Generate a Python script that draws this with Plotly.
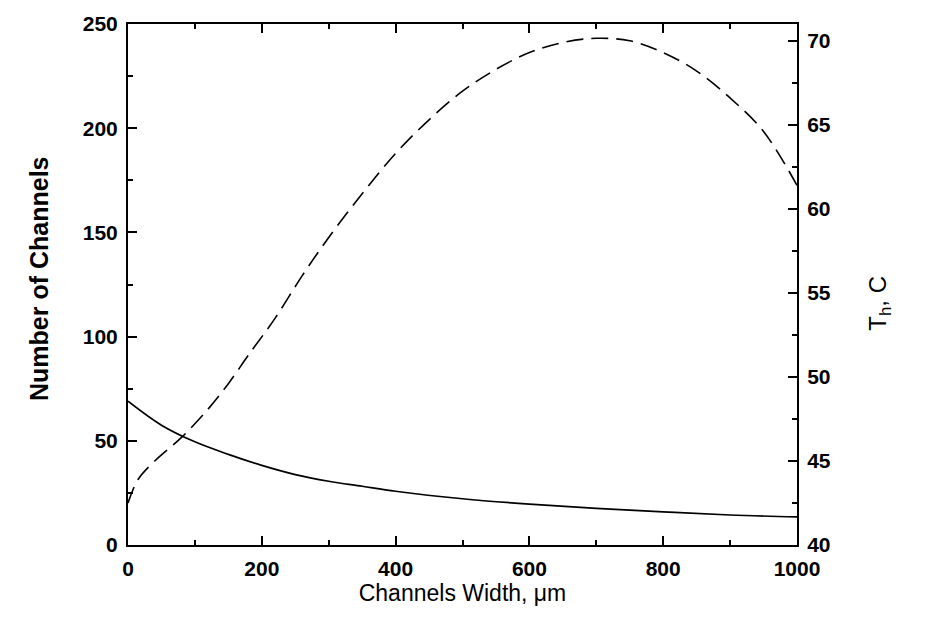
import plotly.graph_objects as go

# Channel width (um) and number of channels (solid, left axis)
width_n = [0, 50, 100, 150, 200, 250, 300, 350, 400, 500, 600, 700, 800, 900, 1000]
n_channels = [69, 57.5, 49.5, 43.5, 38.2, 33.8, 30.6, 28.2, 25.8, 22.2, 19.6, 17.6, 15.9, 14.4, 13.5]

# Channel width (um) and Th (dashed, right axis)
width_t = [0, 15, 40, 80, 120, 150, 180, 220, 260, 300, 350, 400, 450, 500, 550,
           600, 650, 700, 750, 800, 850, 900, 950, 1000]
th = [42.5, 43.9, 45.0, 46.4, 48.1, 49.6, 51.3, 53.5, 56.0, 58.3, 60.9, 63.3, 65.3,
      67.0, 68.3, 69.3, 69.9, 70.15, 70.0, 69.3, 68.2, 66.6, 64.6, 61.4]

x_ticks = [0, 200, 400, 600, 800, 1000]
y_ticks = [0, 50, 100, 150, 200, 250]
y2_ticks = [40, 45, 50, 55, 60, 65, 70]

FONT = "Liberation Sans, Arial, sans-serif"
tick_font = dict(family=FONT, size=21, color="black", weight="bold")

fig = go.Figure()
fig.add_trace(go.Scatter(x=width_n, y=n_channels, mode="lines",
                         line=dict(color="black", width=1.7, shape="spline"),
                         yaxis="y", showlegend=False))
fig.add_trace(go.Scatter(x=width_t, y=th, mode="lines",
                         line=dict(color="black", width=1.6, dash="17px,8px", shape="spline"),
                         yaxis="y2", showlegend=False))

axis_common = dict(showline=True, linecolor="black", linewidth=2, ticks="inside",
                   ticklen=9, tickwidth=2, tickcolor="black", showgrid=False,
                   zeroline=False)

fig.update_layout(
    width=932, height=617,
    margin=dict(l=128, r=135, t=18, b=72),
    paper_bgcolor="white", plot_bgcolor="white",
    xaxis=dict(range=[0, 1000], tickvals=x_ticks, mirror="ticks",
               tickfont=tick_font, ticklabelstandoff=4,
               minor=dict(dtick=100, ticks="inside", ticklen=5, tickwidth=1.5, tickcolor="black"),
               title=dict(text="Channels Width, μm",
                          font=dict(family=FONT, size=23, color="black"),
                          standoff=5),
               **axis_common),
    yaxis=dict(range=[0, 250], tickvals=y_ticks,
               tickfont=tick_font, ticklabelstandoff=4,
               minor=dict(dtick=25, ticks="inside", ticklen=5, tickwidth=1.5, tickcolor="black"),
               **axis_common),
    yaxis2=dict(range=[40, 71], tickvals=y2_ticks, overlaying="y", side="right",
                tickfont=tick_font, ticklabelstandoff=4,
                minor=dict(dtick=2.5, ticks="inside", ticklen=5, tickwidth=1.5, tickcolor="black"),
                **axis_common),
    annotations=[
        dict(text="<b>Number of Channels</b>", xref="paper", yref="paper",
             x=-0.132, y=0.51, textangle=-90, showarrow=False, xanchor="center", yanchor="middle",
             font=dict(family=FONT, size=25, color="black")),
        dict(text="T<sub>h</sub>, C", xref="paper", yref="paper",
             x=1.124, y=0.465, textangle=-90, showarrow=False, xanchor="center", yanchor="middle",
             font=dict(family=FONT, size=24, color="black")),
    ],
)

fig.write_html("out.html")
